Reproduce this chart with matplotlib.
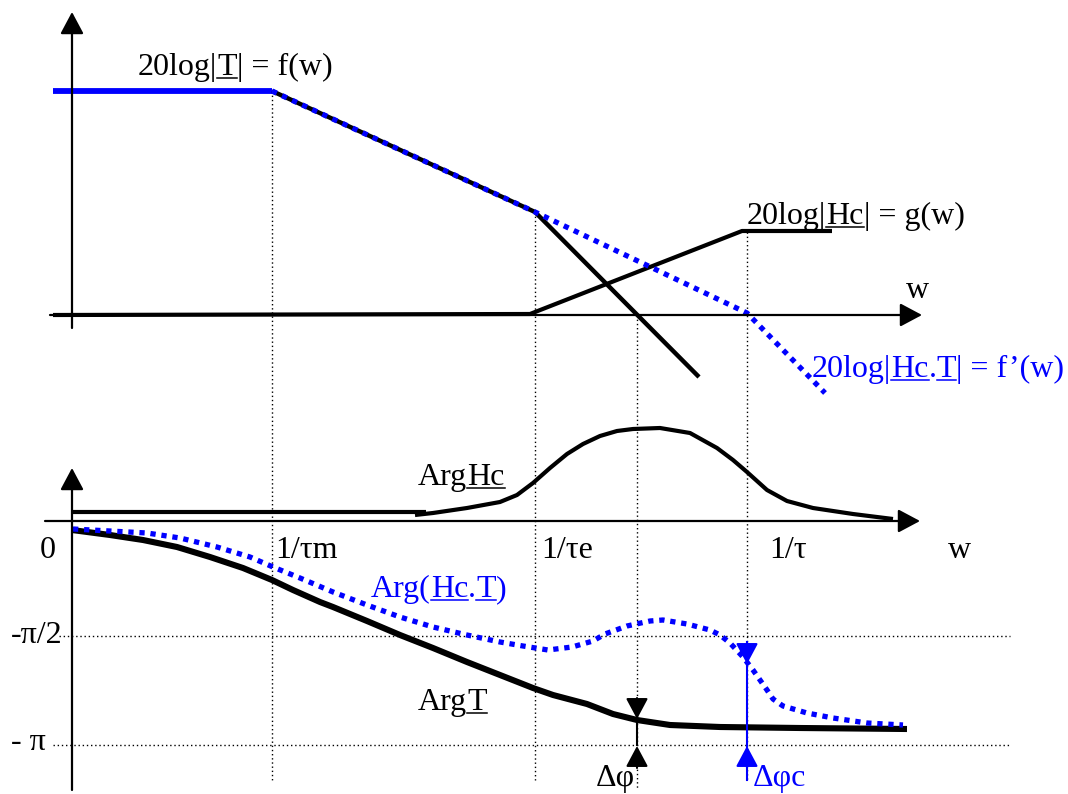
import numpy as np
import matplotlib.pyplot as plt

plt.rcParams['font.family'] = ['Liberation Serif', 'DejaVu Serif']

# corner frequencies (horizontal position on the sketch)
w_tm = 272
w_te = 535
w_cross = 637
w_t = 747

# gain asymptotes (top diagram)
gain_T_flat_w = [53, w_tm]
gain_T_flat_v = [91, 91]
gain_T_w = [w_tm, w_te, 699]
gain_T_v = [91, 212, 377]
gain_HcT_w = [w_tm, w_te, w_t, 825]
gain_HcT_v = [91, 212, 313, 393]
gain_Hc_w = [53, 530, 742, 832]
gain_Hc_v = [315, 314, 231, 231]

# phase curves (bottom diagram)
arg_Hc_flat_w = [72, 426]
arg_Hc_flat_v = [512, 512]
arg_Hc_w = [415, 433, 467, 500, 517, 533, 550, 567, 583, 600, 617, 633, 660, 690, 717, 733,
            747, 767, 787, 813, 853, 893]
arg_Hc_v = [515, 513, 508, 502, 495, 483, 468, 454, 444, 436, 431, 429, 428, 433, 448, 460,
            472, 490, 501, 508, 514, 519]

arg_T_w = [72, 110, 143, 177, 210, 243, 272, 293, 320, 333, 367, 400, 433, 467, 500, 533,
           553, 587, 613, 637, 670, 720, 800, 907]
arg_T_v = [530, 535, 540, 547, 557, 568, 580, 590, 602, 607, 621, 635, 648, 662, 675, 688,
           695, 704, 714, 720, 725, 727, 728, 729]

arg_HcT_w = [73, 110, 147, 180, 217, 250, 273, 300, 333, 367, 400, 433, 467, 500, 523, 548,
             572, 593, 605, 627, 650, 663, 687, 710, 720, 730, 743, 753, 760, 767, 773, 783,
             807, 833, 867, 903]
arg_HcT_v = [529, 531, 533, 538, 547, 557, 567, 578, 592, 605, 617, 627, 635, 642, 646, 650,
             647, 641, 634, 626, 621, 620, 624, 630, 635, 643, 657, 670, 680, 690, 699, 706,
             713, 718, 723, 725]

half_pi = 636
pi_level = 745

fig = plt.figure(figsize=(10.68, 7.94), dpi=100)
ax = fig.add_axes([0, 0, 1, 1])
ax.set_xlim(0, 1068)
ax.set_ylim(794, 0)
ax.axis('off')
renderer = fig.canvas.get_renderer()

arrow = dict(arrowstyle='-|>,head_length=0.75,head_width=0.4', color='black', lw=1.6,
             mutation_scale=18, shrinkA=0, shrinkB=0)

# axes of the gain diagram
ax.annotate('', xy=(72, 12), xytext=(72, 328), arrowprops=arrow)
ax.annotate('', xy=(922, 315), xytext=(50, 315), arrowprops=arrow)
# axes of the phase diagram
ax.annotate('', xy=(72, 468), xytext=(72, 790), arrowprops=arrow)
ax.annotate('', xy=(920, 521), xytext=(45, 521), arrowprops=arrow)

# dotted guide lines
dot = dict(color='black', lw=1, linestyle=(0, (1, 2)))
ax.plot([w_tm, w_tm], [91, 780], **dot)
ax.plot([w_te, w_te], [212, 780], **dot)
ax.plot([w_cross, w_cross], [315, 790], **dot)
ax.plot([w_t, w_t], [232, 780], **dot)
ax.plot([59, 1010], [half_pi, half_pi], **dot)
ax.plot([53, 1010], [pi_level, pi_level], **dot)

# gain curves
ax.plot(gain_Hc_w, gain_Hc_v, color='black', lw=3, solid_capstyle='butt')
ax.plot(gain_T_flat_w, gain_T_flat_v, color='#0000ff', lw=4.2, solid_capstyle='butt')
ax.plot(gain_T_w, gain_T_v, color='black', lw=3.2, solid_capstyle='butt')
ax.plot(gain_HcT_w, gain_HcT_v, color='#0000ff', lw=3.8, linestyle=(0, (1, 1.1)))

# phase curves
ax.plot(arg_Hc_flat_w, arg_Hc_flat_v, color='black', lw=3, solid_capstyle='butt')
ax.plot(arg_Hc_w, arg_Hc_v, color='black', lw=3, solid_capstyle='butt', solid_joinstyle='round')
ax.plot(arg_T_w, arg_T_v, color='black', lw=4.4, solid_capstyle='butt', solid_joinstyle='round')
ax.plot(arg_HcT_w, arg_HcT_v, color='#0000ff', lw=3.8, linestyle=(0, (1, 1.1)))

# phase margins
small = dict(arrowstyle='-|>,head_length=0.75,head_width=0.4', lw=1.5, mutation_scale=17,
             shrinkA=0, shrinkB=0)
ax.plot([w_cross, w_cross], [718, 745], color='black', lw=1.5)
ax.annotate('', xy=(w_cross, 719), xytext=(w_cross, 698), arrowprops=dict(small, color='black'))
ax.annotate('', xy=(w_cross, 746), xytext=(w_cross, 768), arrowprops=dict(small, color='black'))
ax.plot([w_t, w_t], [642, 780], color='#0000ff', lw=1.5)
ax.annotate('', xy=(w_t, 664), xytext=(w_t, 642), arrowprops=dict(small, color='#0000ff'))
ax.annotate('', xy=(w_t, 746), xytext=(w_t, 768), arrowprops=dict(small, color='#0000ff'))

fs = 23


def label(x, y, parts, color='black'):
    # parts: list of (text, underlined); pieces are laid side by side
    for s, under in parts:
        t = ax.text(x, y, s, fontsize=fs, va='baseline', color=color)
        w = t.get_window_extent(renderer).width
        if under:
            ax.plot([x, x + w], [y + 3, y + 3], color=color, lw=1.1)
        x += w


label(138, 75, [('20log|', 0), ('T', 1), ('| = f(w)', 0)])
label(747, 224, [('20log|', 0), ('Hc', 1), ('| = g(w)', 0)])
label(812, 377, [('20log|', 0), ('Hc', 1), ('.', 0), ('T', 1), ('| = f\u2019(w)', 0)], '#0000ff')
label(418, 485, [('Arg', 0), ('Hc', 1)])
label(371, 597, [('Arg(', 0), ('Hc', 1), ('.', 0), ('T', 1), (')', 0)], '#0000ff')
label(418, 710, [('Arg', 0), ('T', 1)])

ax.text(918, 298, 'w', fontsize=fs, va='baseline', ha='center')
ax.text(48, 558, '0', fontsize=fs, va='baseline', ha='center')
ax.text(275, 558, '1/\u03c4m', fontsize=fs, va='baseline')
ax.text(541, 558, '1/\u03c4e', fontsize=fs, va='baseline')
ax.text(769, 558, '1/\u03c4', fontsize=fs, va='baseline')
ax.text(960, 558, 'w', fontsize=fs, va='baseline', ha='center')
ax.text(62, 643, '-\u03c0/2', fontsize=fs, va='baseline', ha='right')
ax.text(46, 750, '- \u03c0', fontsize=fs, va='baseline', ha='right')
ax.text(615, 786, '\u0394\u03c6', fontsize=fs, va='baseline', ha='center')
ax.text(753, 786, '\u0394\u03c6c', fontsize=fs, va='baseline', color='#0000ff')

fig.savefig('out.png', dpi=100)
